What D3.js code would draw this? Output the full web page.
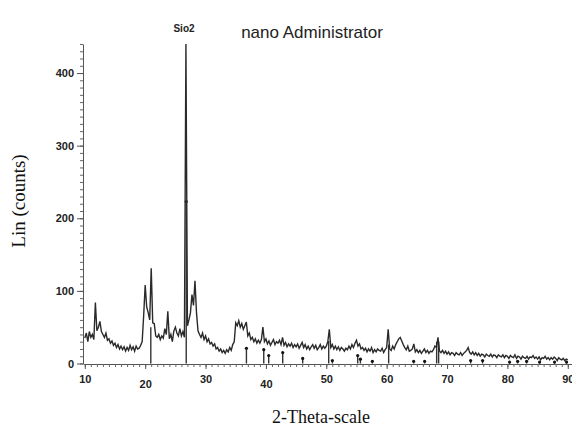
<!DOCTYPE html>
<html><head><meta charset="utf-8">
<script src="https://cdn.jsdelivr.net/npm/d3@7"></script>
<style>html,body{margin:0;padding:0;background:#fff;overflow:hidden}</style>
</head><body>
<svg id="c" width="572" height="429"></svg>
<script>
// 2-theta grid: start 10, step 0.25 (one row per degree)
const thetaStart = 10, thetaStep = 0.25;
const counts = [
 35,42,30,44,  36,40,33,84,  45,50,58,44,  40,36,42,32,
 34,28,31,25,  28,22,26,20,  24,19,23,17,  22,18,25,19,
 23,17,24,20,  21,25,30,66,  108,78,70,60, 131,56,55,38,
 36,40,33,38,  35,48,40,72,  34,40,30,45,  50,42,38,48,
 38,44,36,440, 52,60,70,95,  80,114,70,45, 40,36,42,33,
 38,30,34,27,  29,24,27,20,  22,17,20,15,  18,14,19,16,
 22,18,26,30,  56,52,59,50,  55,47,52,57,  38,42,33,36,
 30,34,28,32,  28,33,50,30,  34,27,31,25,  29,33,26,30,
 28,32,26,36,  25,29,23,27,  24,28,22,26,  23,27,21,25,
 29,22,26,20,  24,19,23,26,  21,25,19,22,  26,20,24,21,
 24,30,47,22,  26,20,24,19,  23,18,22,20,  17,21,19,24,
 20,26,22,28,  32,24,27,20,  22,18,21,16,  20,17,22,15,
 19,16,20,18,  17,21,15,19,  22,47,20,18,  24,20,26,30,
 34,36,31,26,  22,19,24,17,  18,20,27,16,  19,15,18,14,
 17,20,15,18,  14,17,16,19,  24,22,36,17,  15,18,14,17,
 13,16,12,15,  14,11,15,13,  12,15,11,14,  16,18,22,15,
 13,16,12,15,  11,14,10,13,  12,9,13,11,   10,13,9,12,
 11,8,12,10,   9,12,8,11,    10,7,11,9,    8,12,7,10,
 9,6,10,8,     7,10,6,9,     8,11,7,9,     6,9,5,8,
 7,10,6,8,     5,8,6,9,      7,4,8,6,      5,7,4,6,
 5
];
// reference stick pattern (position, height)
const stickPos    = [20.93, 26.8, 36.77, 39.64, 40.46, 42.78, 46.09, 50.40, 51.01, 55.20, 55.65, 57.63, 60.33, 64.47, 66.29, 68.28, 68.61, 73.91, 75.89, 80.36, 81.69, 83.18, 85.33, 87.81, 89.80];
const stickHeight = [50, 223, 21, 19, 11, 15, 7, 31, 4, 11, 6, 3, 26, 3, 3, 30, 30, 4, 4, 2, 3, 3, 2, 2, 2];
const dotShown    = [false, true, true, true, true, true, true, false, true, true, true, true, false, true, true, false, false, true, true, true, true, true, true, true, true];
const xTicks = [10, 20, 30, 40, 50, 60, 70, 80, 90];
const yTicks = [0, 100, 200, 300, 400];

const svg = d3.select('#c');
const x = d3.scaleLinear().domain([9.7, 90.7]).range([83, 572]);
const y = d3.scaleLinear().domain([0, 440]).range([363.5, 44]);

const data = counts.map((v, i) => [thetaStart + i * thetaStep, v]);

// axes
const yMinor = d3.range(0, 441, 10);
svg.append('g').attr('transform', 'translate(83,0)')
  .call(d3.axisLeft(y).tickValues(yMinor).tickSize(3).tickFormat('').tickSizeOuter(0))
  .call(g => g.selectAll('line').attr('stroke', '#666'))
  .call(g => g.select('.domain').attr('stroke', '#555'));
svg.append('g').attr('transform', 'translate(83,0)')
  .call(d3.axisLeft(y).tickValues(yTicks).tickSize(6).tickPadding(3).tickSizeOuter(0))
  .call(g => g.select('.domain').remove())
  .call(g => g.selectAll('line').attr('stroke', '#555'))
  .call(g => g.selectAll('text').attr('font-family', 'Liberation Sans, Arial, sans-serif')
     .attr('font-size', 11).attr('font-weight', 'bold').attr('fill', '#222'));

const xMinor = d3.range(10, 91, 1);
svg.append('g').attr('transform', 'translate(0,364)')
  .call(d3.axisBottom(x).tickValues(xMinor).tickSize(3).tickFormat('').tickSizeOuter(0))
  .call(g => g.selectAll('line').attr('stroke', '#666'))
  .call(g => g.select('.domain').attr('stroke', '#555'));
svg.append('g').attr('transform', 'translate(0,364)')
  .call(d3.axisBottom(x).tickValues(xTicks).tickSize(5).tickPadding(6).tickSizeOuter(0))
  .call(g => g.select('.domain').remove())
  .call(g => g.selectAll('line').attr('stroke', '#555'))
  .call(g => g.selectAll('text').attr('font-family', 'Liberation Sans, Arial, sans-serif')
     .attr('font-size', 11).attr('font-weight', 'bold').attr('fill', '#222')
     .attr('dy', (d) => (d === 20 || d === 40) ? '1.2em' : '0.71em'));

// sticks
const sticks = svg.append('g');
stickPos.forEach((p, i) => {
  sticks.append('line').attr('x1', x(p)).attr('x2', x(p))
    .attr('y1', y(0)).attr('y2', y(stickHeight[i]))
    .attr('stroke', '#333').attr('stroke-width', 1.4);
  if (dotShown[i]) sticks.append('circle').attr('cx', x(p)).attr('cy', y(stickHeight[i]))
    .attr('r', 1.6).attr('fill', '#111');
});

// pattern line
svg.append('path').datum(data)
  .attr('d', d3.line().x(d => x(d[0])).y(d => y(d[1])))
  .attr('fill', 'none').attr('stroke', '#2a2a2a').attr('stroke-width', 1.4)
  .attr('stroke-linejoin', 'miter');

// texts
svg.append('text').attr('x', 184).attr('y', 32).attr('text-anchor', 'middle')
  .attr('font-family', 'Liberation Sans, Arial, sans-serif').attr('font-size', 10)
  .attr('font-weight', 'bold').attr('fill', '#222').text('Sio2');
svg.append('text').attr('x', 312).attr('y', 38).attr('text-anchor', 'middle')
  .attr('font-family', 'Liberation Sans, Arial, sans-serif').attr('font-size', 17)
  .attr('fill', '#222').text('nano Administrator');
svg.append('text').attr('transform', 'translate(25,201) rotate(-90)').attr('text-anchor', 'middle')
  .attr('font-family', 'Liberation Serif, Times New Roman, serif').attr('font-size', 19)
  .attr('fill', '#111').text('Lin (counts)');
svg.append('text').attr('x', 321).attr('y', 423).attr('text-anchor', 'middle')
  .attr('font-family', 'Liberation Serif, Times New Roman, serif').attr('font-size', 18)
  .attr('fill', '#111').text('2-Theta-scale');
</script>
</body></html>
